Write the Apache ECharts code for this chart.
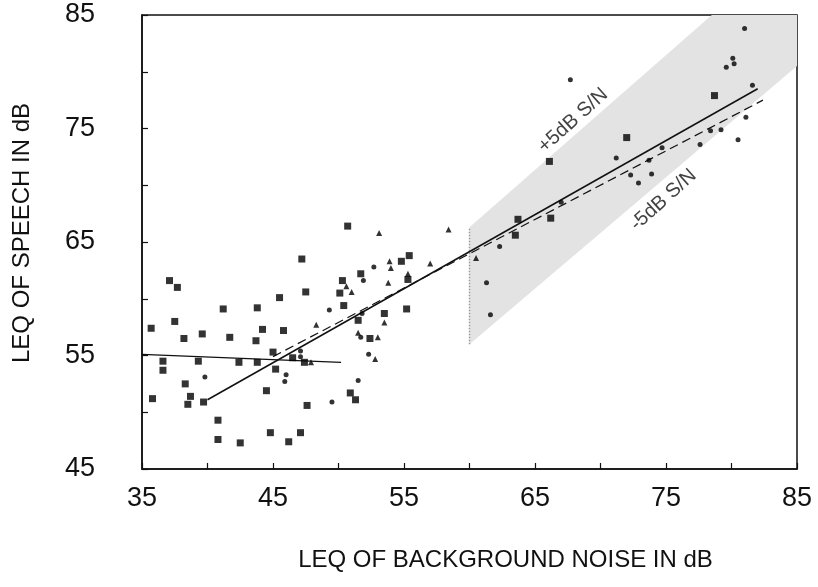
<!DOCTYPE html>
<html>
<head>
<meta charset="utf-8">
<script src="https://cdn.jsdelivr.net/npm/echarts@6/dist/echarts.min.js"></script>
<style>html,body{margin:0;padding:0;background:#fff}#c{width:818px;height:587px}</style>
</head>
<body>
<div id="c"></div>
<script>
// Data (x: LEQ of background noise, y: LEQ of speech, dB)
const squares = [
  [37.1,61.6],[37.7,61.0],[47.2,63.5],[47.5,60.6],[45.5,60.1],[43.8,59.2],[41.2,59.1],
  [37.5,58.0],[35.7,57.4],[38.2,56.5],[39.6,56.9],[41.7,56.6],[44.2,57.3],[45.8,57.2],
  [43.7,56.3],[45.0,55.3],[36.6,54.5],[36.6,53.7],[39.3,54.5],[42.4,54.4],[43.8,54.4],
  [45.2,53.8],[46.5,54.8],[47.4,54.4],[38.3,52.5],[38.7,51.4],[38.5,50.7],[35.8,51.2],
  [39.7,50.9],[44.5,51.9],[47.6,50.6],[40.8,49.3],[40.8,47.6],[42.5,47.3],[44.8,48.2],
  [46.2,47.4],[47.1,48.2],[50.7,66.4],[54.8,63.3],[55.4,63.8],[55.3,61.7],[51.7,62.2],
  [50.3,61.6],[50.1,60.5],[50.4,59.4],[55.2,59.1],[53.5,58.7],[51.5,58.1],[52.4,56.5],
  [50.9,51.7],[51.3,51.1],[66.1,72.1],[63.7,67.0],[66.2,67.1],[63.5,65.6],[78.7,77.9],
  [72.0,74.2]
];
const triangles = [
  [53.1,65.8],[58.4,66.1],[53.9,63.3],[54.0,62.7],[55.3,62.2],[50.6,61.1],[51.0,60.6],
  [53.8,61.4],[57.0,63.1],[53.5,57.9],[48.3,57.7],[51.5,57.0],[53.0,56.6],[52.8,54.7],
  [47.9,54.4],[60.5,63.6]
];
const circles = [
  [47.1,54.9],[39.8,53.1],[46.0,53.3],[45.9,52.7],[52.7,62.8],[51.9,61.6],[49.3,59.0],
  [51.8,58.7],[51.7,56.6],[52.3,55.1],[47.1,55.4],[51.5,52.8],[49.5,50.9],
  [67.7,79.3],[81.0,83.8],[80.1,81.2],[80.2,80.7],[79.6,80.4],[81.6,78.8],[81.1,76.0],
  [78.4,74.8],[79.2,74.9],[80.5,74.0],[77.6,73.6],[74.7,73.3],[73.7,72.2],[71.2,72.4],
  [72.3,70.9],[73.9,71.0],[72.9,70.2],[62.3,64.6],[61.3,61.4],[61.6,58.6],[67.0,68.5]
];
const flatFit = [[35,55.1],[50.2,54.4]];
const solidFit = [[40,51.1],[82,78.5]];
const dashedFit = [[45,54.9],[82.4,77.5]];
const snBand = [[60,56],[85,80.5],[85,85],[78.5,85],[60,66.3]];
const bandEdge = [[60,56],[60,66.3]];
const bandLabels = [[67.9,75.7,'+5dB S/N'],[74.8,68.7,'-5dB S/N']];
const xTicks = [35,45,55,65,75,85];
const yTicks = [45,55,65,75,85];

const FONT = '"Liberation Sans", Arial, sans-serif';
const chart = echarts.init(document.getElementById('c'), null, {renderer:'canvas'});
chart.setOption({
  animation: false,
  backgroundColor: '#fff',
  grid: {left:142, right:21, top:15, bottom:118, show:true, borderColor:'#111', borderWidth:1.5, outerBoundsMode:'none'},
  xAxis: {
    type:'value', min:35, max:85, interval:5,
    name:'LEQ OF BACKGROUND NOISE IN dB', nameLocation:'middle', nameGap:79,
    nameTextStyle:{fontFamily:FONT, fontSize:24, color:'#111', padding:[0,0,0,72]},
    axisLine:{show:true, onZero:false, lineStyle:{color:'#111', width:1.5}},
    axisTick:{show:true, inside:true, length:6, lineStyle:{color:'#111', width:1.2}},
    splitLine:{show:false},
    axisLabel:{fontFamily:FONT, fontSize:27, color:'#111', margin:16,
      formatter: v => xTicks.includes(v) ? String(v) : ''}
  },
  yAxis: {
    type:'value', min:45, max:85, interval:5,
    name:'LEQ OF SPEECH IN dB', nameLocation:'middle', nameGap:108,
    nameTextStyle:{fontFamily:FONT, fontSize:24, color:'#111', padding:[0,0,0,18]},
    axisLine:{show:true, onZero:false, lineStyle:{color:'#111', width:1.5}},
    axisTick:{show:true, inside:true, length:6, lineStyle:{color:'#111', width:1.2}},
    splitLine:{show:false},
    axisLabel:{fontFamily:FONT, fontSize:27, color:'#111', margin:47,
      formatter: v => yTicks.includes(v) ? String(v) : ''}
  },
  series: [
    {
      type:'custom', z:1, silent:true,
      data: snBand,
      renderItem: (params, api) => {
        if (params.dataIndex !== 0) return null;
        const pts = snBand.map(p => api.coord(p));
        return {type:'polygon', shape:{points:pts}, style:{fill:'#e3e3e3', stroke:null}};
      }
    },
    {type:'line', data:bandEdge, symbol:'none', z:2, lineStyle:{color:'#999', width:1.5, type:'dotted'}},
    {type:'line', data:flatFit, symbol:'none', z:3, lineStyle:{color:'#111', width:1.3}},
    {type:'line', data:solidFit, symbol:'none', z:3, lineStyle:{color:'#111', width:1.5}},
    {type:'line', data:dashedFit, symbol:'none', z:3, lineStyle:{color:'#111', width:1.2, type:[9,5]}},
    {type:'scatter', data:squares, symbol:'rect', symbolSize:7, z:4, itemStyle:{color:'#000'}},
    {type:'scatter', data:triangles, symbol:'triangle', symbolSize:6, z:4, itemStyle:{color:'#000'}},
    {type:'scatter', data:circles, symbol:'circle', symbolSize:5, z:4, itemStyle:{color:'#000'}},
    {
      type:'scatter', data:bandLabels, symbolSize:0, z:5,
      label:{show:true, position:'inside', rotate:42, fontFamily:FONT, fontSize:20, color:'#111',
        formatter: p => p.data[2]}
    }
  ]
});
</script>
</body>
</html>
